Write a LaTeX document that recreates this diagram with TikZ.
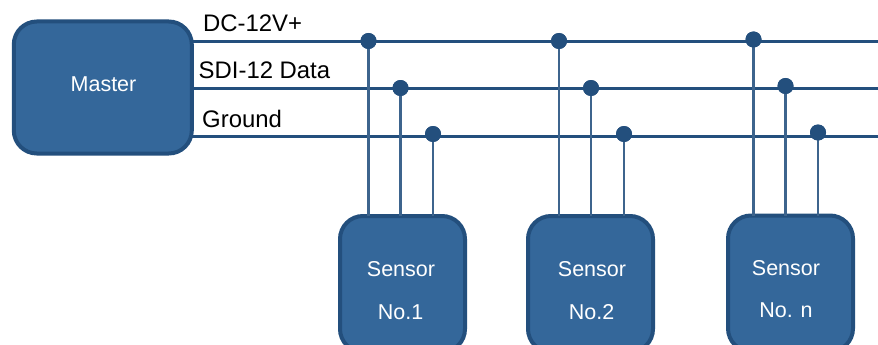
\documentclass[tikz,border=0pt]{standalone}
\usepackage{fontspec}
\setmainfont{Liberation Sans}
\definecolor{boxfill}{HTML}{34679A}
\definecolor{boxline}{HTML}{234F7D}
\tikzset{
  x=1pt,y=-1pt,
  devbox/.style={draw=boxline,line width=4pt,fill=boxfill,rounded corners=23pt,text=white,inner sep=0pt,outer sep=0pt},
  sensorbox/.style={devbox,minimum width=125pt,minimum height=136pt},
  junction/.style={circle,fill=boxline,minimum size=16pt,inner sep=0pt,outer sep=0pt},
  bus/.style={draw=boxline,line width=3pt},
  tap/.style={draw=boxline!88!white,line width=2.6pt},
  wirelabel/.style={text=black,anchor=base west,inner sep=0pt,font=\fontsize{23.9}{28}\selectfont},
  boxtext/.style={text=white,inner sep=0pt,font=\fontsize{21.5}{25}\selectfont}
}
\begin{document}
\begin{tikzpicture}
\useasboundingbox (0,0) rectangle (878,345);
\clip (0,0) rectangle (878,345);
% master
\node[devbox,minimum width=178pt,minimum height=132pt] (m) at (102.8,87.5) {};
\node[boxtext] (mt) at (103.5,84) {Master};
% free ends
\coordinate (e1) at (878,41.5);
\coordinate (e2) at (878,88.5);
\coordinate (e3) at (878,136.5);
% sensors
\node[sensorbox] (s1) at (402.5,284) {};
\node[sensorbox] (s2) at (590.5,284) {};
\node[sensorbox] (sn) at (790.5,283.5) {};
% junctions
\node[junction] (a1) at (368.5,41) {};
\node[junction] (b1) at (400.5,88) {};
\node[junction] (c1) at (433,134) {};
\node[junction] (a2) at (559,41) {};
\node[junction] (b2) at (591,88) {};
\node[junction] (c2) at (624,134) {};
\node[junction] (an) at (753.5,39.5) {};
\node[junction] (bn) at (785.5,86) {};
\node[junction] (cn) at (818,132.5) {};
% buses
\draw[bus] (m.east |- e1) -- (e1);
\draw[bus] (m.east |- e2) -- (e2);
\draw[bus] (m.east |- e3) -- (e3);
\foreach \d/\s in {a1/s1,b1/s1,c1/s1,a2/s2,b2/s2,c2/s2,an/sn,bn/sn,cn/sn}
  \draw[tap] (\d.center) -- (\d |- \s.north);
% junction dots above the wires
\foreach \d in {a1,b1,c1,a2,b2,c2,an,bn,cn}
  \fill[boxline] (\d) circle (8pt);
% labels
\node[wirelabel] (l1) at (203,32) {DC-12V+};
\node[wirelabel] (l2) at (198.5,78.5) {SDI-12 Data};
\node[wirelabel] (l3) at (202,127) {Ground};
\node[boxtext] (t1a) at (401,269) {Sensor};
\node[boxtext] (t1b) at (400.5,312) {No.1};
\node[boxtext] (t2a) at (592,269) {Sensor};
\node[boxtext] (t2b) at (591.5,312) {No.2};
\node[boxtext] (tna) at (786,268) {Sensor};
\node[boxtext] (tnb) at (786,310.5) {No. n};
\end{tikzpicture}
\end{document}
